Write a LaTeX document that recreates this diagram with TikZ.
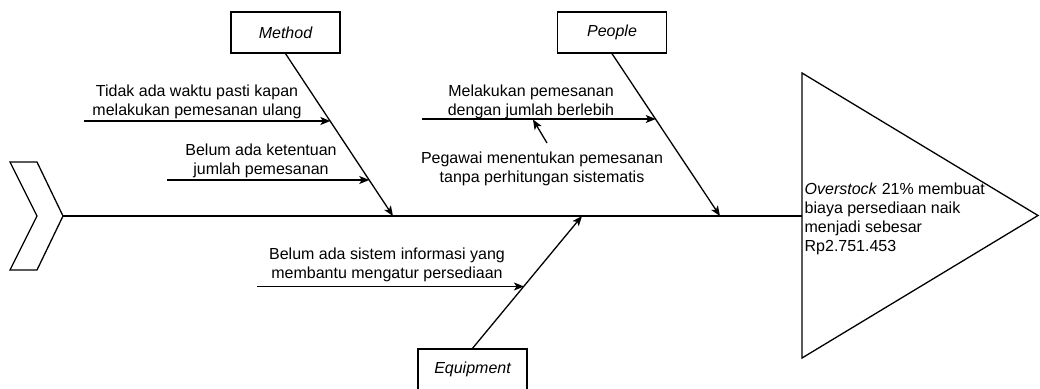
\documentclass[tikz,border=0pt]{standalone}
\usepackage{fontspec}
\setmainfont{Liberation Sans}
\usetikzlibrary{arrows.meta,calc}
\begin{document}
\begin{tikzpicture}[x=1pt,y=-1pt,
  line width=1.3pt,
  every node/.style={font=\fontsize{16}{19}\selectfont, inner sep=0pt},
  catbox/.style={draw, fill=white, minimum width=109pt, minimum height=41pt, font=\fontsize{16}{19}\selectfont\itshape},
  cause/.style={align=center},
  arr/.style={-{Stealth[length=10pt,width=8pt,inset=2.5pt]}}
]
\useasboundingbox (0,0) rectangle (1040,388);
\clip (0,0) rectangle (1040,388);
% tail chevron
\draw[line join=miter] (10,162) -- (37,162) -- (63,216) -- (37,270) -- (10,270) -- (37,216) -- cycle;
\coordinate (tail) at (63,216);
% head triangle
\draw (802,73) -- (1038,215.5) -- (802,358) -- cycle;
\coordinate (head) at (802,216);
\node[anchor=west, align=left] (effect) at (804,218.5) {\textit{Overstock} 21\% membuat\\biaya persediaan naik\\menjadi sebesar\\Rp2.751.453};
% spine
\draw (tail) -- (head);
% category boxes
\node[catbox] (method) at (285.5,32.5) {Method};
\node[catbox] (people) at (612,32.5) {People};
\node[catbox] (equip) at (472.5,369.5) {Equipment};
% bone end points on spine
\coordinate (mS) at (393,216);
\coordinate (pS) at (720,216);
\coordinate (eS) at (582,216);
\draw[arr] (method.south) -- (mS);
\draw[arr] (people.south) -- (pS);
\draw[arr] (equip.north) -- (eS);
% points on bones
\coordinate (m1) at ($(method.south)!0.417!(mS)$);
\coordinate (m2) at ($(method.south)!0.779!(mS)$);
\coordinate (p1) at ($(people.south)!0.405!(pS)$);
\coordinate (e1) at ($(equip.north)!0.47!(eS)$);
% cause arrow starts
\coordinate (m1s) at (84,121);
\coordinate (m2s) at (167,180);
\coordinate (p1s) at (422,119);
\coordinate (e1s) at (257,286.5);
\draw[arr] (m1s) -- (m1 |- m1s);
\draw[arr] (m2s) -- (m2 |- m2s);
\draw[arr] (p1s) -- (p1 |- p1s);
\draw[arr] (e1s) -- (e1 |- e1s);
% cause texts
\node[cause] (t1) at (197,102) {Tidak ada waktu pasti kapan\\melakukan pemesanan ulang};
\node[cause] (t2) at (261,160.5) {Belum ada ketentuan\\jumlah pemesanan};
\node[cause] (t3) at (531,102) {Melakukan pemesanan\\dengan jumlah berlebih};
\node[cause] (t4) at (542,168.5) {Pegawai menentukan pemesanan\\tanpa perhitungan sistematis};
\node[cause] (t5) at (387,265) {Belum ada sistem informasi yang\\membantu mengatur persediaan};
% sub-cause arrow
\coordinate (subs) at (547,143);
\coordinate (subt) at (533,119.5);
\draw[arr] (subs) -- (subt);
\end{tikzpicture}
\end{document}
